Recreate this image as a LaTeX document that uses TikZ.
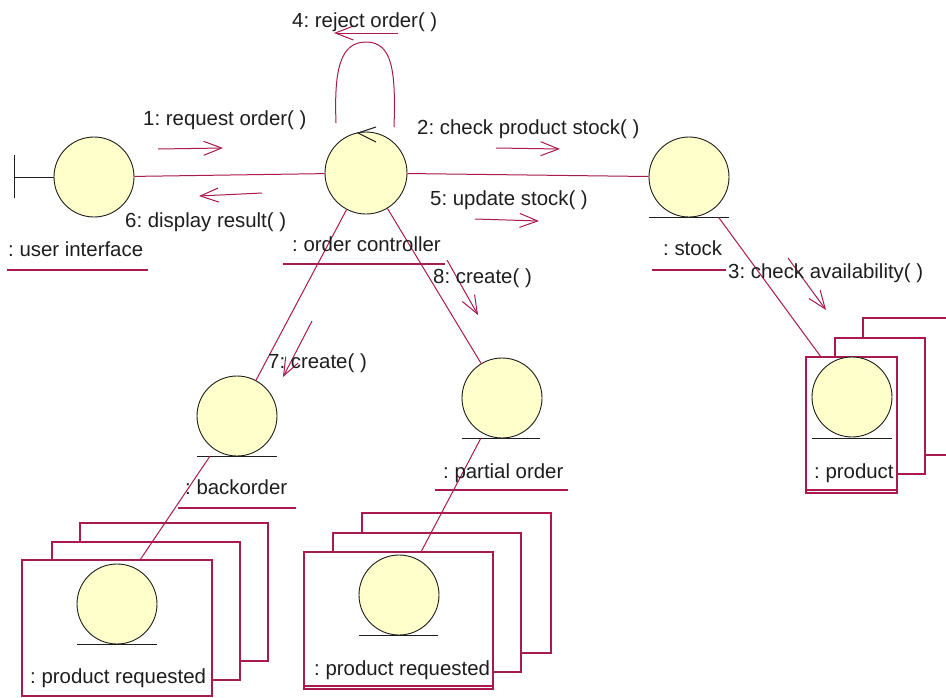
\documentclass[tikz,border=0pt]{standalone}
\usepackage{fontspec}
\setmainfont{Liberation Sans}
\usetikzlibrary{arrows.meta}
\definecolor{lnk}{RGB}{170,25,80}
\definecolor{ball}{RGB}{255,255,204}
\definecolor{ink}{RGB}{30,30,30}
\frenchspacing
\begin{document}
\begin{tikzpicture}[x=1pt,y=-1pt,
  obj/.style={circle,draw=ink,fill=ball,line width=0.9pt,minimum size=80pt,inner sep=0pt},
  lbl/.style={anchor=base west,inner sep=0pt,text=ink,font=\frenchspacing\fontsize{20.4}{24}\selectfont},
  link/.style={draw=lnk,line width=1pt},
  msg/.style={draw=lnk,line width=1pt,-{Straight Barb[length=18pt,width=14pt,line width=1pt]}},
  ground/.style={draw=ink,line width=1pt},
  uline/.style={draw=lnk,line width=1.2pt},
  stack/.style={draw=lnk,fill=white,line width=1.3pt},
  frontbox/.style={rectangle,draw=lnk,fill=white,line width=1.3pt,inner sep=0pt},
]
\path[use as bounding box,fill=white] (0,0) rectangle (946,697);

% ---------- stacked boxes (multi-objects) ----------
% left
\draw[stack] (80,523) rectangle (268,661);
\draw[stack] (52,542) rectangle (240,680);
\node[frontbox,minimum width=190pt,minimum height=136pt] (prLBox) at (117,628) {};
% middle
\draw[stack] (362,513) rectangle (551,653);
\draw[stack] (333,533) rectangle (521,672);
\node[frontbox,minimum width=189pt,minimum height=137pt] (prMBox) at (398.5,620.5) {};
\draw[lnk,line width=1.2pt] (304,686) -- (493,686);
% right
\draw[stack] (863,318) rectangle (970,455);
\draw[stack] (835,338) rectangle (925,474);
\node[frontbox,minimum width=91pt,minimum height=136pt] (prodBox) at (851.5,425) {};
\draw[lnk,line width=1.2pt] (806,490) -- (897,490);

% ---------- objects ----------
\node[obj] (ui) at (94,177) {};
\node[obj,minimum size=82pt] (ctrl) at (366,173) {};
\node[obj] (stock) at (689,177) {};
\node[obj] (prod) at (852,397) {};
\node[obj] (back) at (237,416) {};
\node[obj] (part) at (502,398) {};
\node[obj] (prL) at (117,604) {};
\node[obj] (prM) at (399,595) {};

% entity ground lines
\draw[ground] (649,217) -- (729,217);
\draw[ground] (812,438) -- (892,438);
\draw[ground] (197,456) -- (277,456);
\draw[ground] (462,438) -- (540,438);
\draw[ground] (77,644) -- (157,644);
\draw[ground] (359,635) -- (438,635);

% boundary symbol
\draw[ground] (14,155) -- (14,198);
\draw[ground] (14,177) -- (ui.west);

% control symbol arrow
\draw[draw=ink,line width=1pt] (376,127) -- (358,133) -- (376,142);

% ---------- links ----------
\coordinate (prodTop) at (821,357);
\coordinate (prLTop) at (140,560);
\coordinate (prMTop) at (421,552);
\draw[link] (ui) -- (ctrl);
\draw[link] (ctrl) -- (stock);
\draw[link] (ctrl) -- (back);
\draw[link] (ctrl) -- (part);
\draw[link,shorten <=9.6pt] (stock) -- (prodTop);
\draw[link,shorten <=8.2pt] (back) -- (prLTop);
\draw[link,shorten <=5.2pt] (part) -- (prMTop);
% self link
\draw[link] (336,123) .. controls (334,70) and (340,42) .. (366,42)
            .. controls (392,42) and (396,70) .. (394,127);

% ---------- messages ----------
\draw[msg] (158,149) -- (223,148);
\draw[msg] (262,193) -- (199,196);
\draw[msg] (398,33) -- (334,33);
\draw[msg] (496,148) -- (560,149);
\draw[msg] (475,219) -- (539,221);
\draw[msg] (788,258) -- (826,310);
\draw[msg] (312,321) -- (283,377);
\draw[msg] (447,260) -- (478,315);

% ---------- labels ----------
\node[lbl] (t1) at (143,125) {1: request order( )};
\node[lbl] (t6) at (125,227) {6: display result( )};
\node[lbl] (tui) at (8,256) {: user interface};
\node[lbl] (t4) at (292,27) {4: reject order( )};
\node[lbl] (t2) at (417,134) {2: check product stock( )};
\node[lbl] (t5) at (430,205) {5: update stock( )};
\node[lbl] (tctrl) at (292,251) {: order controller};
\node[lbl] (t8) at (433,283) {8: create( )};
\node[lbl] (t7) at (268,368) {7: create( )};
\node[lbl] (tstock) at (663,255) {: stock};
\node[lbl] (t3) at (728,278) {3: check availability( )};
\node[lbl] (tback) at (185,494) {: backorder};
\node[lbl] (tpart) at (443,478) {: partial order};
\node[lbl] (tprL) at (30,683) {: product requested};
\node[lbl] (tprM) at (314,675) {: product requested};
\node[lbl] (tprod) at (814,478) {: product};

% label underlines
\draw[uline] (7,270) -- (148,270);
\draw[uline] (283,264) -- (445,264);
\draw[uline] (652,270) -- (726,270);
\draw[uline] (178,508) -- (296,508);
\draw[uline] (435,490) -- (568,490);
\end{tikzpicture}
\end{document}
